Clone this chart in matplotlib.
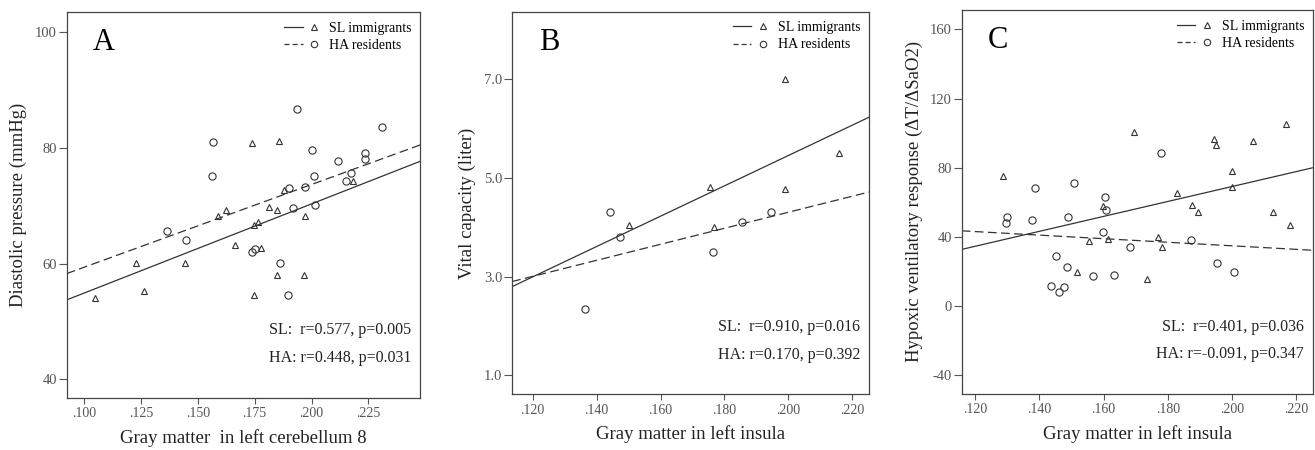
import matplotlib
matplotlib.use('Agg')
import matplotlib.pyplot as plt
import numpy as np
from matplotlib.lines import Line2D
from matplotlib.legend_handler import HandlerTuple

plt.rcParams['font.family'] = ['Liberation Serif', 'DejaVu Serif']

# panel A: gray matter in left cerebellum 8 vs diastolic pressure
a_sl_x = [0.1048, 0.1228, 0.1265, 0.1445, 0.1591, 0.1624, 0.1663, 0.1738, 0.1746, 0.1763,
          0.1747, 0.1776, 0.1813, 0.1847, 0.1849, 0.1856, 0.1877, 0.1968, 0.1972, 0.2181]
a_sl_y = [54.1, 60.1, 55.2, 60.1, 68.2, 69.2, 63.2, 80.8, 66.7, 67.2,
          54.6, 62.7, 69.7, 69.3, 58.1, 81.2, 72.7, 58.1, 68.2, 74.3]
a_ha_x = [0.1367, 0.1447, 0.1561, 0.1568, 0.1740, 0.1751, 0.1861, 0.1896, 0.1901, 0.1917, 0.1935,
          0.1971, 0.2003, 0.2012, 0.2015, 0.2115, 0.2151, 0.2175, 0.2236, 0.2237, 0.2308]
a_ha_y = [65.7, 64.0, 75.1, 81.1, 62.0, 62.6, 60.1, 54.5, 73.1, 69.6, 86.7,
          73.2, 79.6, 75.1, 70.1, 77.7, 74.2, 75.6, 79.2, 78.1, 83.6]

# panel B: gray matter in left insula vs vital capacity
b_sl_x = [0.1501, 0.1755, 0.1768, 0.1990, 0.1990, 0.2159]
b_sl_y = [4.05, 4.81, 4.01, 7.01, 4.77, 5.51]
b_ha_x = [0.1363, 0.1443, 0.1474, 0.1764, 0.1856, 0.1946]
b_ha_y = [2.34, 4.30, 3.80, 3.49, 4.10, 4.30]

# panel C: gray matter in left insula vs hypoxic ventilatory response
c_sl_x = [0.1286, 0.1555, 0.1599, 0.1614, 0.1517, 0.1694, 0.1734, 0.1769, 0.1782, 0.1829,
          0.1876, 0.1894, 0.1945, 0.1951, 0.1999, 0.2000, 0.2065, 0.2127, 0.2167, 0.2181]
c_sl_y = [75.2, 37.5, 57.9, 38.6, 19.8, 100.8, 15.5, 39.7, 34.0, 65.3,
          58.7, 54.4, 96.4, 93.0, 78.1, 68.7, 95.5, 54.4, 105.4, 46.8]
c_ha_x = [0.1299, 0.1297, 0.1377, 0.1388, 0.1438, 0.1451, 0.1463, 0.1477, 0.1485, 0.1491, 0.1508,
          0.1568, 0.1598, 0.1606, 0.1608, 0.1632, 0.1682, 0.1780, 0.1871, 0.1952, 0.2006]
c_ha_y = [51.5, 48.2, 49.6, 68.4, 11.4, 29.1, 8.0, 11.3, 22.5, 51.5, 71.3,
          17.6, 43.1, 63.2, 55.3, 18.3, 34.2, 88.3, 38.0, 25.1, 19.7]

a_xticks = [0.100, 0.125, 0.150, 0.175, 0.200, 0.225]
a_xlabels = ['.100', '.125', '.150', '.175', '.200', '.225']
a_yticks = [40, 60, 80, 100]
b_xticks = [0.120, 0.140, 0.160, 0.180, 0.200, 0.220]
b_xlabels = ['.120', '.140', '.160', '.180', '.200', '.220']
b_yticks = [1.0, 3.0, 5.0, 7.0]
b_ylabels = ['1.0', '3.0', '5.0', '7.0']
c_yticks = [-40, 0, 40, 80, 120, 160]

a_stats = ['SL:  r=0.577, p=0.005', 'HA: r=0.448, p=0.031']
b_stats = ['SL:  r=0.910, p=0.016', 'HA: r=0.170, p=0.392']
c_stats = ['SL:  r=0.401, p=0.036', 'HA: r=-0.091, p=0.347']

LINE = '#333333'
TICK = '#555555'


def draw_panel(ax, sl_x, sl_y, ha_x, ha_y, xlim, ylim, xticks, xlabels, yticks, ylabels,
               xlabel, ylabel, letter, stats, ylab_x):
    ax.set_xlim(*xlim)
    ax.set_ylim(*ylim)

    xs = np.array(xlim)
    k, b = np.polyfit(sl_x, sl_y, 1)
    ax.plot(xs, k * xs + b, color=LINE, lw=0.9, solid_capstyle='butt')
    k, b = np.polyfit(ha_x, ha_y, 1)
    ax.plot(xs, k * xs + b, color=LINE, lw=0.9, dashes=(7, 3.5))

    ax.plot(sl_x, sl_y, ls='none', marker='^', ms=4.6, mfc='none', mec=LINE, mew=0.8)
    ax.plot(ha_x, ha_y, ls='none', marker='o', ms=5.2, mfc='none', mec=LINE, mew=0.8)

    ax.set_xticks(xticks)
    ax.set_xticklabels(xlabels)
    ax.set_yticks(yticks)
    ax.set_yticklabels(ylabels)
    ax.tick_params(axis='x', length=4, width=0.8, pad=3, colors=TICK, labelsize=10)
    ax.tick_params(axis='y', length=6, width=0.8, pad=1, colors=TICK, labelsize=10.5)
    for s in ax.spines.values():
        s.set_color('#444444')
        s.set_linewidth(0.9)

    ax.set_xlabel(xlabel, fontsize=13.5, color='#222222', va='center')
    ax.xaxis.set_label_coords(0.5, -0.105)
    ax.set_ylabel(ylabel, fontsize=13.5, color='#222222', va='center')
    ax.yaxis.set_label_coords(ylab_x, 0.5)

    ax.text(0.075, 0.92, letter, transform=ax.transAxes, fontsize=22, va='center', ha='left')
    ax.text(0.975, 0.175, stats[0], transform=ax.transAxes, fontsize=11.5, ha='right', va='center',
            color='#222222')
    ax.text(0.975, 0.103, stats[1], transform=ax.transAxes, fontsize=11.5, ha='right', va='center',
            color='#222222')

    h_sl = (Line2D([], [], color=LINE, lw=0.9),
            Line2D([], [], ls='none', marker='^', ms=4.2, mfc='none', mec=LINE, mew=0.8))
    h_ha = (Line2D([], [], color=LINE, lw=0.9, dashes=(4, 2.5)),
            Line2D([], [], ls='none', marker='o', ms=4.6, mfc='none', mec=LINE, mew=0.8))
    ax.legend([h_sl, h_ha], ['SL immigrants', 'HA residents'],
              handler_map={tuple: HandlerTuple(ndivide=None, pad=0.2)},
              loc='upper right', bbox_to_anchor=(0.975, 0.975), frameon=False,
              fontsize=10, handlelength=2.8, handletextpad=0.4, labelspacing=0.3,
              borderpad=0, borderaxespad=0)


fig = plt.figure(figsize=(13.15, 4.5), dpi=100)
ax_a = fig.add_axes([0.0507, 0.1162, 0.2689, 0.8571])
ax_b = fig.add_axes([0.3894, 0.1238, 0.2715, 0.8502])
ax_c = fig.add_axes([0.7313, 0.1251, 0.2671, 0.8527])

draw_panel(ax_a, a_sl_x, a_sl_y, a_ha_x, a_ha_y, (0.0924, 0.2478), (36.8, 103.5),
           a_xticks, a_xlabels, a_yticks, [str(v) for v in a_yticks],
           'Gray matter  in left cerebellum 8', 'Diastolic pressure (mmHg)', 'A', a_stats, -0.136)
draw_panel(ax_b, b_sl_x, b_sl_y, b_ha_x, b_ha_y, (0.1136, 0.2252), (0.615, 8.37),
           b_xticks, b_xlabels, b_yticks, b_ylabels,
           'Gray matter in left insula', 'Vital capacity (liter)', 'B', b_stats, -0.126)
draw_panel(ax_c, c_sl_x, c_sl_y, c_ha_x, c_ha_y, (0.1159, 0.2251), (-50.6, 171.2),
           b_xticks, b_xlabels, c_yticks, [str(v) for v in c_yticks],
           'Gray matter in left insula', 'Hypoxic ventilatory response (ΔT/ΔSaO2)', 'C', c_stats, -0.134)

fig.savefig('out.png', dpi=100, facecolor='white')
